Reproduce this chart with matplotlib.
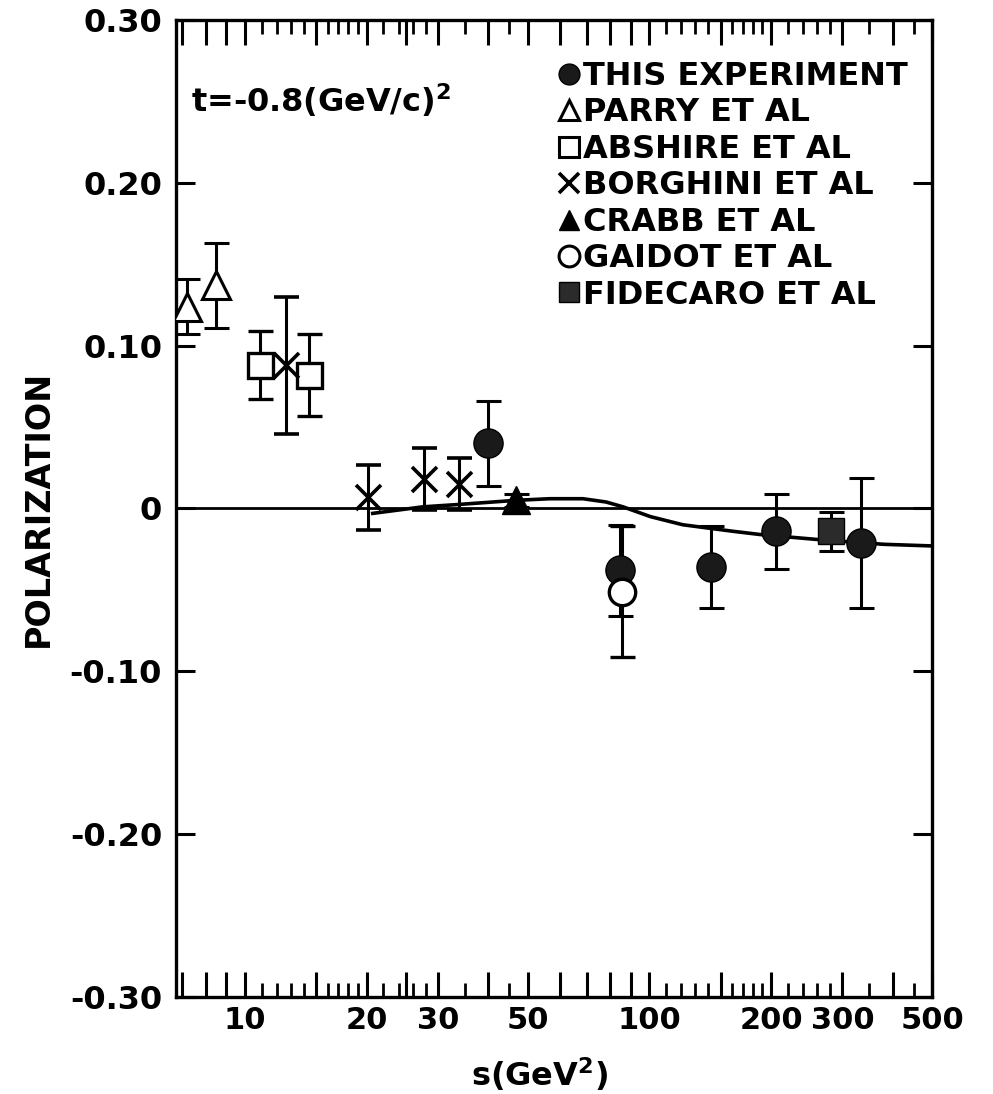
import matplotlib
matplotlib.use("Agg")
import matplotlib.pyplot as plt
from matplotlib.lines import Line2D
from matplotlib.ticker import FixedLocator, FixedFormatter, NullFormatter

plt.rcParams['font.family'] = ['DejaVu Sans']
plt.rcParams['mathtext.default'] = 'bf'

# data
this_s = [39.9, 84.7, 142, 206, 333]
this_p = [0.040, -0.038, -0.036, -0.014, -0.021]
this_err = [0.026, 0.028, 0.025, 0.023, 0.040]

parry_s = [7.18, 8.47]
parry_p = [0.124, 0.137]
parry_err = [0.017, 0.026]

abshire_s = [10.9, 14.4]
abshire_p = [0.088, 0.082]
abshire_err = [0.021, 0.025]

borghini_s = [12.6, 20.1, 27.7, 33.9]
borghini_p = [0.088, 0.007, 0.018, 0.015]
borghini_err = [0.042, 0.020, 0.019, 0.016]

crabb_s = [46.7]
crabb_p = [0.005]
crabb_err = [0.004]

gaidot_s = [85.5]
gaidot_p = [-0.051]
gaidot_err = [0.040]

fidecaro_s = [281]
fidecaro_p = [-0.014]
fidecaro_err = [0.012]

curve_s = [20.7, 27.5, 33.9, 46.7, 56.7, 68.5, 78.1, 86.1, 100.6, 121, 161, 188, 259, 380, 500]
curve_p = [-0.003, 0.001, 0.0025, 0.005, 0.006, 0.006, 0.004, 0.001, -0.005, -0.010,
           -0.014, -0.016, -0.019, -0.022, -0.023]

xtick_vals = [10, 20, 30, 50, 100, 200, 300, 500]
xtick_text = ['10', '20', '30', '50', '100', '200', '300', '500']
ytick_vals = [0.3, 0.2, 0.1, 0, -0.1, -0.2, -0.3]
ytick_text = ['0.30', '0.20', '0.10', '0', '-0.10', '-0.20', '-0.30']
xmajor = [7, 8, 9, 10, 15, 20, 25, 30, 40, 50, 60, 70, 80, 90, 100, 150, 200, 300, 400, 500]
xminor = [11, 12, 13, 14, 16, 17, 18, 19, 22, 24, 26, 28, 35, 45,
          110, 120, 130, 140, 160, 170, 180, 190, 220, 240, 260, 280, 350, 450]

legend_labels = ['THIS EXPERIMENT', 'PARRY ET AL', 'ABSHIRE ET AL', 'BORGHINI ET AL',
                 'CRABB ET AL', 'GAIDOT ET AL', 'FIDECARO ET AL']

fig = plt.figure(figsize=(9.93, 10.94), dpi=100)
ax = fig.add_axes([0.1772, 0.0887, 0.7614, 0.893])
ax.set_xscale('log')
ax.set_xlim(6.75, 500)
ax.set_ylim(-0.30, 0.30)

ax.axhline(0, color='black', linewidth=2.0, zorder=1)
ax.plot(curve_s, curve_p, color='black', linewidth=2.6, zorder=2)

ebar = dict(linestyle='none', ecolor='black', elinewidth=2.2, capsize=9, capthick=2.2, zorder=3)
ms = 20
ax.errorbar(parry_s, parry_p, yerr=parry_err, marker='^', ms=ms, mfc='white', mec='black', mew=2.2, **ebar)
ax.errorbar(abshire_s, abshire_p, yerr=abshire_err, marker='s', ms=ms - 2, mfc='white', mec='black', mew=2.4, **ebar)
ax.errorbar(borghini_s, borghini_p, yerr=borghini_err, marker='x', ms=ms - 2, mec='black', mew=2.6, **ebar)
ax.errorbar(crabb_s, crabb_p, yerr=crabb_err, marker='^', ms=ms, mfc='black', mec='black', **ebar)
ax.errorbar(this_s, this_p, yerr=this_err, marker='o', ms=ms + 1, mfc='#1a1a1a', mec='black', **ebar)
ax.errorbar(gaidot_s, gaidot_p, yerr=gaidot_err, marker='o', ms=ms - 1, mfc='white', mec='black', mew=2.4, **ebar)
ax.errorbar(fidecaro_s, fidecaro_p, yerr=fidecaro_err, marker='s', ms=ms - 1, mfc='#2b2b2b', mec='black', **ebar)

# axes frame and ticks
for sp in ax.spines.values():
    sp.set_linewidth(2.4)
ax.xaxis.set_major_locator(FixedLocator(xmajor))
ax.xaxis.set_minor_locator(FixedLocator(xminor))
ax.xaxis.set_major_formatter(NullFormatter())
ax.xaxis.set_minor_formatter(NullFormatter())
ax.tick_params(axis='x', which='major', direction='in', length=18, width=2.2, top=True, bottom=True, labelbottom=False)
ax.tick_params(axis='x', which='minor', direction='in', length=10, width=2.0, top=True, bottom=True)
ax.set_yticks(ytick_vals)
ax.yaxis.set_major_formatter(FixedFormatter(ytick_text))
ax.tick_params(axis='y', which='major', direction='in', length=14, width=2.2, left=True, right=True,
               labelsize=23, pad=10)
for lab in ax.get_yticklabels():
    lab.set_fontweight('bold')

for v, t in zip(xtick_vals, xtick_text):
    ax.text(v, -0.3055, t, ha='center', va='top', fontsize=22, fontweight='bold', clip_on=False)

ax.set_ylabel('POLARIZATION', fontsize=24, fontweight='bold')
ax.yaxis.set_label_coords(-0.16, 0.5)
ax.set_xlabel('s(GeV$^2$)', fontsize=23, fontweight='bold')
ax.xaxis.set_label_coords(0.481, -0.06)

ax.text(0.02, 0.918, 't=-0.8(GeV/c)$^2$', transform=ax.transAxes, fontsize=23,
        fontweight='bold', ha='left', va='center')

handles = [
    Line2D([], [], ls='none', marker='o', ms=15, mfc='#1a1a1a', mec='black'),
    Line2D([], [], ls='none', marker='^', ms=15, mfc='white', mec='black', mew=2.2),
    Line2D([], [], ls='none', marker='s', ms=14, mfc='white', mec='black', mew=2.2),
    Line2D([], [], ls='none', marker='x', ms=14, mec='black', mew=2.6),
    Line2D([], [], ls='none', marker='^', ms=15, mfc='black', mec='black'),
    Line2D([], [], ls='none', marker='o', ms=15, mfc='white', mec='black', mew=2.2),
    Line2D([], [], ls='none', marker='s', ms=14, mfc='#2b2b2b', mec='black'),
]
leg = ax.legend(handles, legend_labels, loc='upper left', bbox_to_anchor=(0.505, 0.958),
                frameon=False, handlelength=0.7, handletextpad=0.1, labelspacing=0.17,
                borderpad=0, borderaxespad=0, prop=dict(weight='bold', size=23))

fig.savefig('out.png', dpi=100, facecolor='white')
